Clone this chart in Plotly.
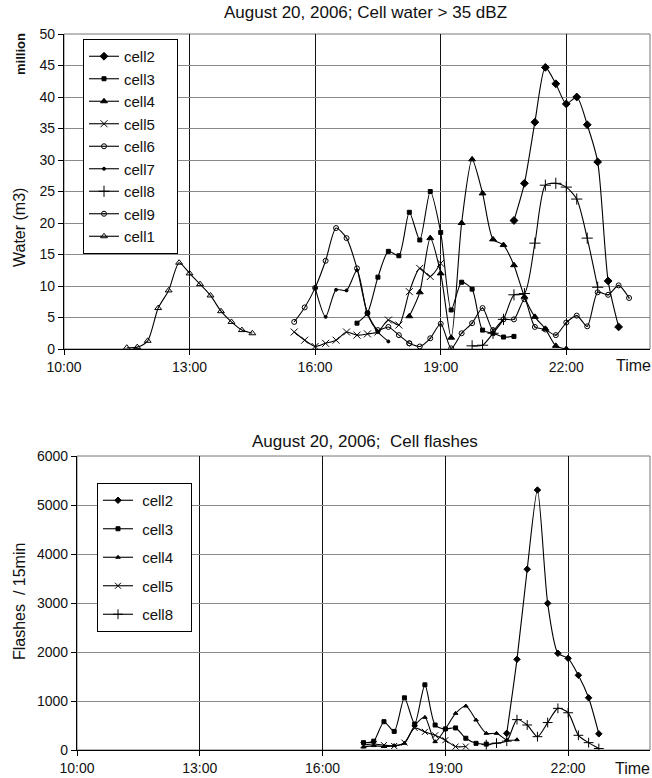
import plotly.graph_objects as go

DAY = "2006-08-20 "

# ---------------- Top chart: Cell water > 35 dBZ (million m3) ----------------
w_cell1_t = ["11:30","11:45","12:00","12:15","12:30","12:45","13:00","13:15","13:30","13:45","14:00","14:15","14:30"]
w_cell1_v = [0.2, 0.3, 1.3, 6.5, 9.3, 13.7, 12.0, 10.3, 8.5, 6.0, 4.3, 3.0, 2.5]

w_cell2_t = ["20:45","21:00","21:15","21:30","21:45","22:00","22:15","22:30","22:45","23:00","23:15"]
w_cell2_v = [20.4, 26.3, 36.0, 44.7, 42.1, 38.9, 40.0, 35.6, 29.7, 10.8, 3.5]

w_cell3_t = ["17:00","17:15","17:30","17:45","18:00","18:15","18:30","18:45","19:00","19:15","19:30","19:45","20:00","20:15","20:30","20:45"]
w_cell3_v = [4.1, 5.7, 11.4, 15.5, 14.8, 21.7, 17.3, 25.0, 18.5, 6.2, 10.6, 9.5, 3.0, 2.5, 1.9, 2.0]

w_cell4_t = ["18:15","18:30","18:45","19:00","19:15","19:30","19:45","20:00","20:15","20:30","20:45","21:00","21:15","21:30","21:45","22:00"]
w_cell4_v = [5.2, 9.0, 17.6, 12.0, 1.8, 20.0, 30.1, 24.7, 17.4, 16.5, 13.3, 8.3, 5.1, 3.2, 0.5, 0.0]

w_cell5_t = ["15:30","15:45","16:00","16:15","16:30","16:45","17:00","17:15","17:30","17:45","18:00","18:15","18:30","18:45","19:00"]
w_cell5_v = [2.7, 1.4, 0.4, 0.9, 1.4, 2.7, 2.2, 2.4, 2.7, 4.6, 3.8, 9.1, 12.8, 11.5, 13.6]

w_cell6_t = ["15:30","15:45","16:00","16:15","16:30","16:45","17:00","17:15","17:30","17:45","18:00","18:15"]
w_cell6_v = [4.3, 6.6, 9.7, 14.0, 19.2, 17.6, 12.8, 5.7, 3.0, 3.5, 2.2, 0.9]

w_cell7_t = ["16:00","16:15","16:30","16:45","17:00","17:15","17:30","17:45"]
w_cell7_v = [9.7, 5.1, 9.4, 9.3, 12.5, 5.5, 2.7, 1.2]

w_cell8_t = ["19:45","20:00","20:15","20:30","20:45","21:00","21:15","21:30","21:45","22:00","22:15","22:30","22:45"]
w_cell8_v = [0.5, 0.6, 2.5, 4.7, 8.6, 8.8, 16.8, 26.0, 26.3, 25.7, 23.8, 17.6, 9.8]

w_cell9_t = ["18:15","18:30","18:45","19:00","19:15","19:30","19:45","20:00","20:15","20:30","20:45","21:00","21:15","21:30","21:45","22:00","22:15","22:30","22:45","23:00","23:15","23:30"]
w_cell9_v = [0.9, 0.4, 1.7, 4.0, 0.1, 2.5, 4.1, 6.5, 3.0, 4.7, 4.7, 7.9, 3.5, 3.1, 2.2, 4.2, 5.3, 3.6, 9.0, 8.6, 10.1, 8.1]

# ---------------- Bottom chart: Cell flashes per 15 min ----------------
f_cell2_t = ["20:30","20:45","21:00","21:15","21:30","21:45","22:00","22:15","22:30","22:45"]
f_cell2_v = [340, 1850, 3690, 5306, 2993, 1973, 1871, 1525, 1065, 330]

f_cell3_t = ["17:00","17:15","17:30","17:45","18:00","18:15","18:30","18:45","19:00","19:15","19:30","19:45","20:00"]
f_cell3_v = [150, 180, 578, 380, 1065, 531, 1330, 510, 430, 450, 240, 136, 120]

f_cell4_t = ["17:00","17:15","17:30","17:45","18:00","18:15","18:30","18:45","19:00","19:15","19:30","19:45","20:00","20:15","20:30","20:45"]
f_cell4_v = [60, 90, 70, 90, 136, 500, 667, 170, 430, 748, 898, 612, 340, 340, 204, 210]

f_cell5_t = ["17:00","17:15","17:30","17:45","18:00","18:15","18:30","18:45","19:00","19:15","19:30"]
f_cell5_v = [100, 122, 100, 82, 150, 450, 370, 300, 200, 70, 70]

f_cell8_t = ["20:00","20:15","20:30","20:45","21:00","21:15","21:30","21:45","22:00","22:15","22:30","22:45"]
f_cell8_v = [110, 140, 180, 620, 510, 272, 560, 850, 760, 300, 150, 30]

water_y_ticks = [0, 5, 10, 15, 20, 25, 30, 35, 40, 45, 50]
flash_y_ticks = [0, 1000, 2000, 3000, 4000, 5000, 6000]
x_tick_labels = ["10:00", "13:00", "16:00", "19:00", "22:00"]

FONT = "Arial, Liberation Sans, sans-serif"
PAD = "\u00a0"


def tx(times):
    return [DAY + t for t in times]


fig = go.Figure()

water_series = [
    ("cell2", w_cell2_t, w_cell2_v, "diamond", 6),
    ("cell3", w_cell3_t, w_cell3_v, "square", 4),
    ("cell4", w_cell4_t, w_cell4_v, "triangle-up", 6),
    ("cell5", w_cell5_t, w_cell5_v, "x-thin-open", 7),
    ("cell6", w_cell6_t, w_cell6_v, "circle-open", 5),
    ("cell7", w_cell7_t, w_cell7_v, "circle", 3),
    ("cell8", w_cell8_t, w_cell8_v, "cross-thin-open", 8),
    ("cell9", w_cell9_t, w_cell9_v, "circle-open-dot", 5),
    ("cell1", w_cell1_t, w_cell1_v, "triangle-up-open", 6),
]
for i, (name, t, v, sym, sz) in enumerate(water_series):
    fig.add_trace(go.Scatter(
        x=tx(t), y=v, name=name + PAD * 4, mode="lines+markers",
        line=dict(color="black", width=1.1, shape="spline", smoothing=0.7),
        marker=dict(symbol=sym, size=sz, color="black",
                    line=dict(color="black", width=1)),
        xaxis="x", yaxis="y", legend="legend", legendgroup="w" + str(i),
    ))

flash_series = [
    ("cell2", f_cell2_t, f_cell2_v, "diamond", 5),
    ("cell3", f_cell3_t, f_cell3_v, "square", 4),
    ("cell4", f_cell4_t, f_cell4_v, "triangle-up", 4),
    ("cell5", f_cell5_t, f_cell5_v, "x-thin-open", 6),
    ("cell8", f_cell8_t, f_cell8_v, "cross-thin-open", 7),
]
for i, (name, t, v, sym, sz) in enumerate(flash_series):
    fig.add_trace(go.Scatter(
        x=tx(t), y=v, name=PAD + name + PAD * 3, mode="lines+markers",
        line=dict(color="black", width=1.1, shape="spline", smoothing=0.7),
        marker=dict(symbol=sym, size=sz, color="black",
                    line=dict(color="black", width=1)),
        xaxis="x2", yaxis="y2", legend="legend2", legendgroup="f" + str(i),
    ))

W, H = 652, 778


def px_x(p):
    return p / W


def px_y(p):
    return (H - p) / H


tickvals = [DAY + t for t in x_tick_labels]
xcommon = dict(
    type="date", range=[DAY + "10:00", "2006-08-21 00:00"],
    tickvals=tickvals, ticktext=x_tick_labels,
    showgrid=True, gridcolor="#111", gridwidth=1.3,
    showline=True, linecolor="black", linewidth=1.2,
    ticks="outside", ticklen=5, tickcolor="black",
    tickfont=dict(family=FONT, size=14, color="#111"),
    zeroline=False, automargin=False,
)
ycommon = dict(
    showgrid=True, gridcolor="#8a8a8a", gridwidth=1,
    showline=True, linecolor="black", linewidth=1.2,
    ticks="outside", ticklen=5, tickcolor="black",
    tickfont=dict(family=FONT, size=14, color="#111"),
    zeroline=False, automargin=False,
)

fig.update_layout(
    width=W, height=H,
    margin=dict(l=0, r=0, t=0, b=0, autoexpand=False),
    paper_bgcolor="white", plot_bgcolor="white",
    font=dict(family=FONT, color="#111"),
    xaxis=dict(domain=[px_x(64), px_x(650)], anchor="y", **xcommon),
    yaxis=dict(domain=[px_y(349), px_y(34)], anchor="x", range=[0, 50],
               tickvals=water_y_ticks, **ycommon),
    xaxis2=dict(domain=[px_x(77), px_x(650)], anchor="y2", **xcommon),
    yaxis2=dict(domain=[px_y(750), px_y(456)], anchor="x2", range=[0, 6000],
                tickvals=flash_y_ticks, **ycommon),
    legend=dict(x=px_x(83), y=px_y(39), xanchor="left", yanchor="top",
                bordercolor="black", borderwidth=1, bgcolor="white",
                font=dict(family=FONT, size=15, color="#111"),
                tracegroupgap=0, itemwidth=30),
    legend2=dict(x=px_x(97), y=px_y(483), xanchor="left", yanchor="top",
                 bordercolor="black", borderwidth=1, bgcolor="white",
                 font=dict(family=FONT, size=15, color="#111"),
                 tracegroupgap=6, itemwidth=30),
    showlegend=True,
)

# plot-area frames
for xr, yr in (("x domain", "y domain"), ("x2 domain", "y2 domain")):
    fig.add_shape(type="rect", xref=xr, yref=yr, x0=0, x1=1, y0=0, y1=1,
                  line=dict(color="#777", width=1), layer="below")

annotations = [
    dict(text="August 20, 2006; Cell water > 35 dBZ", x=px_x(365), y=px_y(13),
         size=17),
    dict(text="August 20, 2006;  Cell flashes", x=px_x(365), y=px_y(441),
         size=17),
    dict(text="<b>million</b>", x=px_x(20), y=px_y(54), textangle=-90, size=13),
    dict(text="Water (m3)", x=px_x(19), y=px_y(228), textangle=-90, size=16),
    dict(text="Flashes  / 15min", x=px_x(19), y=px_y(602), textangle=-90, size=16),
    dict(text="Time", x=px_x(633), y=px_y(365), size=16),
    dict(text="Time", x=px_x(632), y=px_y(768), size=16),
]
for a in annotations:
    a = dict(a)
    size = a.pop("size")
    fig.add_annotation(xref="paper", yref="paper", showarrow=False,
                       xanchor="center", yanchor="middle",
                       font=dict(family=FONT, color="#111", size=size), **a)

fig.write_html("out.html")
